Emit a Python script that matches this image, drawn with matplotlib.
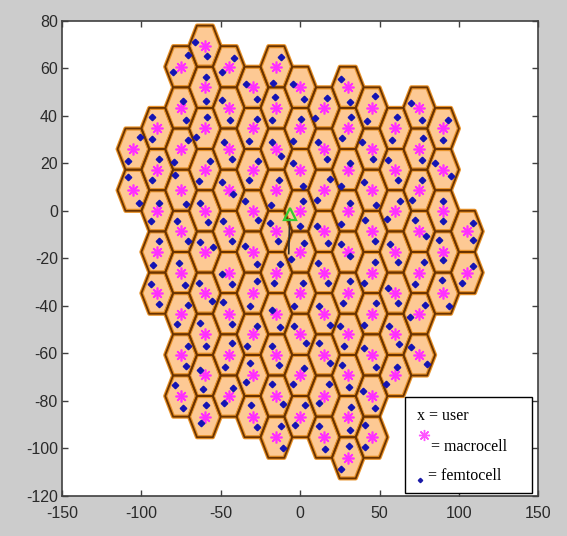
import matplotlib
matplotlib.use('Agg')
import matplotlib.pyplot as plt
from matplotlib.collections import PolyCollection
from matplotlib.patches import Rectangle
import numpy as np

plt.rcParams['axes.unicode_minus'] = False

# flat-top hexagonal cells
cell_radius = 10

# columns of cells: x of the column, top row and bottom row index
col_x = [-105, -90, -75, -60, -45, -30, -15, 0, 15, 30, 45, 60, 75, 90, 105]
col_top = [1, 2, 3, 4, 3, 3, 3, 3, 2, 3, 2, 2, 2, 2, -1]
col_bottom = [0, -2, -5, -5, -5, -5, -6, -5, -6, -6, -6, -4, -4, -2, -2]

# femtocells: offsets from the cell centre (dx1, dy1, dx2, dy2),
# column by column, top cell first
femto_offsets = [
    # x = -105
    (4.2, 4.9, -3.2, -5.2), (-3.2, 5.6, 3.2, -5.3),
    # x = -90
    (-3.6, 4.9, -3.2, -4.5), (1.3, 4.5, -3.2, -4.5), (1.3, 3.1, -4.2, -4.2),
    (1.3, 4.5, -2.9, -5.3), (-4.2, 3.8, 1.3, -4.6),
    # x = -75
    (4.6, 4.9, -5.3, -2.1), (1.0, 3.1, 3.2, -4.9), (4.6, 3.8, -4.4, -5.6),
    (-3.8, 6.3, 3.2, -5.6), (-2.3, 4.2, 4.6, -4.2), (-1.3, 4.2, 2.5, -5.2),
    (4.6, 3.5, -2.3, -4.2), (4.6, 3.8, 3.2, -4.6), (-3.8, 4.5, 1.0, -4.9),
    # x = -60
    (-6.3, 1.7, 1.5, -4.2), (1.0, 4.5, 1.0, -5.6), (1.5, 4.9, -5.3, -3.5),
    (3.2, 3.8, -3.6, -4.9), (-3.2, 3.5, 2.1, -4.9), (-3.2, 4.2, 5.3, 2.1),
    (-3.6, 4.2, 4.2, -3.5), (-3.2, 4.6, 0.6, -4.9), (-3.2, 2.1, -1.0, -5.6),
    (0.6, 4.9, -2.7, -2.8),
    # x = -45
    (3.2, 3.8, -4.2, -2.1), (-4.4, 3.5, 0.8, -4.9), (-2.9, 2.8, 1.9, -4.2),
    (-4.4, 3.5, 2.9, -1.4), (-3.4, 4.2, 2.1, -4.2), (-4.4, -0.7, 2.1, -5.0),
    (-3.8, 4.9, 1.9, -4.2), (1.9, 4.9, -2.3, -4.9), (2.9, 3.5, -2.9, -2.8),
    # x = -30
    (-4.2, 1.4, 2.7, -4.9), (2.7, 3.9, -2.5, -5.2), (3.4, 3.5, -2.1, -4.2),
    (-4.6, 4.2, 3.4, -3.9), (-4.6, 2.5, 2.7, -5.2), (2.7, 4.9, -1.5, -5.6),
    (2.7, 3.5, -3.6, -4.9), (-1.5, 5.3, -4.2, -2.8), (-0.8, 4.9, 2.7, -4.2),
    # x = -15
    (3.2, 4.2, -2.1, -6.7), (-0.6, 4.5, -2.7, -5.0), (-2.9, 2.8, 3.2, -2.8),
    (1.7, 4.2, -3.2, -6.3), (-4.2, 3.5, 1.0, -4.2), (2.5, 3.5, -1.7, -4.2),
    (-2.9, 1.4, 2.5, -5.6), (-2.7, 3.8, 1.5, -4.2), (-2.7, 4.9, 4.0, -3.5),
    (3.2, 4.9, 4.2, -4.6),
    # x = 0
    (-4.6, 1.4, 2.7, -4.9), (0.6, 3.9, -4.6, -5.2), (-4.6, 2.8, 1.7, -7.0),
    (1.7, 4.2, -0.4, -6.3), (2.7, 3.9, -5.7, -3.1), (1.5, 4.2, -3.6, -5.6),
    (-3.6, 3.5, 3.4, -3.8), (2.7, 3.1, -4.2, -3.5), (3.2, 4.9, -3.2, -3.5),
    # x = 15
    (2.1, 4.2, -5.9, -4.2), (-3.8, 3.1, 2.1, -4.2), (3.8, 4.9, -4.6, -4.2),
    (-4.6, 2.4, 2.5, -4.9), (-3.8, 4.2, 2.5, -4.2), (-3.2, 3.1, 3.8, -4.9),
    (-2.9, 5.2, 4.0, -3.5), (2.9, 4.9, -3.4, -2.8), (-2.9, 4.9, 0.8, -4.9),
    # x = 30
    (-4.2, 3.6, 1.3, -6.3), (2.1, 4.9, -3.4, -4.2), (1.3, 2.8, -4.2, -7.0),
    (1.3, 3.5, -4.2, -5.6), (-4.2, 3.2, 1.7, -1.7), (1.3, 4.9, -2.7, -4.2),
    (-4.6, 3.5, -2.5, -4.9), (-3.4, 4.2, 0.8, -4.9), (2.1, 4.2, 1.5, -5.6),
    (0.8, 4.9, -4.2, -4.6),
    # x = 45
    (2.1, 4.9, -2.7, -5.3), (-5.9, 3.1, 0.8, -4.2), (-4.8, 3.5, 2.5, -6.3),
    (-4.2, 4.9, 2.1, -4.2), (2.1, 4.5, -4.8, -4.2), (2.5, 4.5, -4.8, -4.9),
    (-4.8, 2.8, 2.5, -5.3), (-5.2, 2.1, 2.1, -4.9), (-4.2, 5.2, -4.2, -4.2),
    # x = 60
    (0.8, 4.9, -2.3, -4.9), (-4.4, 4.2, 1.9, -4.2), (2.9, 4.2, -5.0, -3.5),
    (-3.2, 3.5, 1.7, -4.2), (-4.6, 2.1, 1.7, -4.2), (-3.8, 3.5, 2.5, -4.2),
    (1.0, 3.5, -5.9, -3.5),
    # x = 75
    (-5.2, 2.1, 1.7, -4.9), (2.3, 4.6, 1.7, -4.6), (1.7, 4.2, -4.6, -4.2),
    (-2.5, 4.9, 4.4, -2.1), (2.7, 4.5, -2.5, -4.9), (3.8, 3.8, -5.9, -1.4),
    (-5.2, 3.5, 4.6, -3.9),
    # x = 90
    (3.4, 3.5, -0.2, -4.9), (-5.0, 2.8, 4.8, -2.5), (0.2, 4.2, 0.2, -4.2),
    (-2.3, 4.9, 0.2, -3.5), (-0.6, 5.6, 3.6, -5.6),
    # x = 105
    (3.8, 3.5, 3.8, -3.5), (3.8, 2.8, -3.2, -4.2),
]

# user position and its short track
user_x, user_y = -6.5, -1.2
track_x = [-6.6, -7.2]
track_y = [-3.5, -18.0]

# cell centres
row_step = np.sqrt(3) * cell_radius
cx, cy = [], []
for x, top, bottom in zip(col_x, col_top, col_bottom):
    shift = 0.5 if (x // 15) % 2 else 0.0
    for j in range(top, bottom - 1, -1):
        cx.append(x)
        cy.append(row_step * (j + shift))
cx = np.array(cx, dtype=float)
cy = np.array(cy, dtype=float)
off = np.array(femto_offsets)
fx = np.concatenate([cx + off[:, 0], cx + off[:, 2]])
fy = np.concatenate([cy + off[:, 1], cy + off[:, 3]])

ang = np.deg2rad(np.arange(0, 360, 60))
hexes = [np.column_stack([x + cell_radius * np.cos(ang), y + cell_radius * np.sin(ang)])
         for x, y in zip(cx, cy)]

fig = plt.figure(figsize=(5.67, 5.36), dpi=100)
fig.patch.set_facecolor('#cccccc')
ax = fig.add_axes([62 / 567, 40 / 536, 476.3 / 567, 475.3 / 536])

ax.add_collection(PolyCollection(hexes, facecolor='#fdc994', edgecolor='#e8922a',
                                 linewidth=3.0, zorder=1))
ax.add_collection(PolyCollection(hexes, facecolor='none', edgecolor='#6a3300',
                                 linewidth=1.3, zorder=2))

ax.plot(cx, cy, linestyle='none', marker=(8, 2, 0), markersize=8.5,
        markeredgewidth=1.2, color='#ff30ff', zorder=4)
ax.plot(fx, fy, linestyle='none', marker='D', markersize=3.3,
        color='#1414b4', zorder=5)

ax.plot(track_x, track_y, color='#303030', linewidth=1.2, zorder=6)
ax.plot(user_x, user_y, linestyle='none', marker='^', markersize=9,
        markerfacecolor='none', markeredgecolor='#33cc33', markeredgewidth=1.6, zorder=7)

ax.set_xlim(-150, 150)
ax.set_ylim(-120, 80)
ax.set_xticks(np.arange(-150, 151, 50))
ax.set_yticks(np.arange(-120, 81, 20))
ax.tick_params(direction='in', top=True, right=True, length=4, width=1,
               color='#404040', labelcolor='#2a2a2a', labelsize=11.5)
ax.tick_params(axis='x', pad=7)
ax.tick_params(axis='y', pad=3)
for lab in ax.get_xticklabels() + ax.get_yticklabels():
    lab.set_fontfamily('Liberation Sans')
for sp in ax.spines.values():
    sp.set_color('#404040')
    sp.set_linewidth(1.2)

# legend box
ax.add_patch(Rectangle((0.720, 0.006), 0.266, 0.203, transform=ax.transAxes,
                       facecolor='white', edgecolor='black', linewidth=1.0, zorder=8))
serif = dict(family='Liberation Serif', fontsize=11.5, color='black', zorder=9,
             transform=ax.transAxes, va='center', ha='left')
ax.text(0.746, 0.168, 'x = user', **serif)
ax.plot([0.759], [0.128], transform=ax.transAxes, linestyle='none', marker=(8, 2, 0),
        markersize=8, markeredgewidth=1.0, color='#ff55ff', zorder=9)
ax.text(0.775, 0.104, '= macrocell', **serif)
ax.plot([0.752], [0.034], transform=ax.transAxes, linestyle='none', marker='D',
        markersize=2.2, color='#1a1aa8', zorder=9)
ax.text(0.768, 0.042, '= femtocell', **serif)

fig.savefig('out.png', dpi=100, facecolor=fig.get_facecolor())
